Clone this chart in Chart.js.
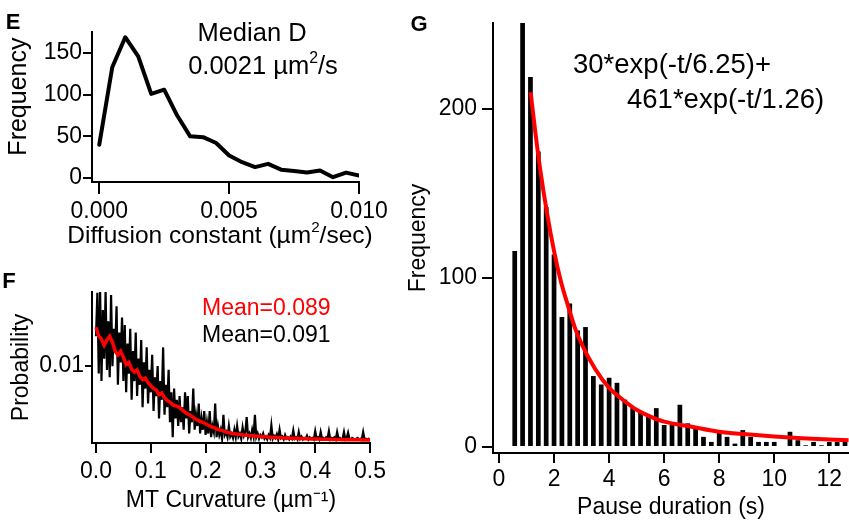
<!DOCTYPE html>
<html>
<head>
<meta charset="utf-8">
<title>Diffusion, curvature and pause histograms</title>
<script src="https://cdn.jsdelivr.net/npm/chart.js@4.4.1/dist/chart.umd.min.js"></script>
<style>
  body { margin: 0; background: #fff; }
  #wrap { position: relative; width: 849px; height: 521px; overflow: hidden; font-family: 'Liberation Sans', Arial, sans-serif; }
  #wrap canvas { position: absolute; left: 0; top: 0; }
  .lbl { position: absolute; white-space: nowrap; line-height: 1; color: #000; }
  .mid { transform: translate(-50%, -50%); }
  .left { transform: translateY(-50%); }
  .panel { font-weight: bold; font-size: 22px; }
  sup { font-size: 0.62em; vertical-align: 0.7em; line-height: 0; }
</style>
</head>
<body>
<div id="wrap">
  <canvas id="chartE" width="849" height="521"></canvas>
  <canvas id="chartF" width="849" height="521"></canvas>
  <canvas id="chartG" width="849" height="521"></canvas>

  <div class="lbl panel mid" style="left:13px;top:22px">E</div>
  <div class="lbl mid" style="left:252px;top:33px;font-size:25.5px">Median D</div>
  <div class="lbl mid" style="left:263px;top:66px;font-size:25.5px">0.0021 µm<sup>2</sup>/s</div>
  <div class="lbl mid" style="left:220px;top:235px;font-size:24.5px">Diffusion constant (µm<sup>2</sup>/sec)</div>

  <div class="lbl panel mid" style="left:9px;top:281px">F</div>
  <div class="lbl left" style="left:202px;top:307px;font-size:23px;color:#ff0000">Mean=0.089</div>
  <div class="lbl left" style="left:202px;top:334px;font-size:23px">Mean=0.091</div>

  <div class="lbl panel mid" style="left:419px;top:24px">G</div>
  <div class="lbl left" style="left:573px;top:64px;font-size:27.5px">30*exp(-t/6.25)+</div>
  <div class="lbl left" style="left:627px;top:99px;font-size:27.5px">461*exp(-t/1.26)</div>
</div>

<script>
// ---- panel E : diffusion constant histogram (line)
const diffConst = [0, 0.0005, 0.001, 0.0015, 0.002, 0.0025, 0.003, 0.0035, 0.004, 0.0045, 0.005,
                   0.0055, 0.006, 0.0065, 0.007, 0.0075, 0.008, 0.0085, 0.009, 0.0095, 0.01];
const diffFreq = [40, 133, 169, 146, 101, 106, 75, 50, 49, 42, 27, 19, 13, 17, 10, 8.5, 6.5, 9, 1, 6.5, 3];
const diffTicksX = [0, 0.005, 0.01];
const diffTicksY = [0, 50, 100, 150];

// ---- panel F : MT curvature probability (per mille), two traces
const curvBinBlack = 0.0025;
const curvProbBlack = [
  14.0, 19.8, 9.0, 20.0, 8.0, 17.5, 11.0, 20.0, 9.5, 16.0, 8.5, 19.5, 10.0, 15.0, 12.0, 18.0, 7.5, 14.5, 10.5, 16.5,
  8.0, 15.5, 6.5, 13.0, 9.0, 15.0, 5.5, 12.0, 8.0, 14.5, 6.0, 11.0, 7.5, 13.5, 4.5, 10.5, 7.0, 12.5, 5.0, 9.5,
  6.5, 11.5, 4.0, 8.5, 6.0, 10.0, 3.0, 8.0, 5.5, 12.5, 3.5, 7.5, 4.5, 9.5, 2.5, 6.5, 0.5, 7.0, 3.0, 5.5,
  2.0, 6.0, 2.5, 4.5, 1.5, 6.5, 3.0, 6.0, 1.0, 4.0, 2.5, 7.0, 1.5, 3.5, 2.0, 5.0, 1.0, 3.0, 1.5, 4.0,
  0.8, 2.5, 1.0, 4.0, 0.5, 2.0, 1.2, 5.0, 0.5, 2.0, 0.8, 1.5, 0.3, 3.5, 0.8, 1.2, 0.5, 2.0, 0.6, 1.0,
  0.4, 1.5, 0.5, 2.0, 0.6, 1.0, 0.3, 1.8, 0.7, 1.2, 3.2, 0.5, 1.0, 0.4, 1.5, 0.6, 3.5, 0.5, 1.0, 0.3,
  0.8, 0.5, 1.0, 0.3, 0.6, 0.2, 0.8, 0.4, 2.1, 0.3, 0.7, 0.4, 0.9, 0.2, 1.5, 0.4, 0.6, 0.2, 0.8, 0.3,
  0.5, 0.2, 0.6, 0.3, 1.4, 0.3, 0.5, 0.2, 1.2, 0.3, 0.6, 0.2, 0.4, 0.3, 0.7, 0.2, 0.5, 0.3, 0.4, 0.2,
  1.3, 0.3, 0.5, 0.2, 1.2, 0.3, 0.4, 0.2, 0.5, 0.3, 1.3, 0.2, 0.4, 0.3, 0.5, 0.2, 1.2, 0.3, 0.4, 0.2,
  0.3, 1.2, 0.2, 0.4, 1.1, 0.3, 0.2, 0.4, 0.3, 0.2, 0.3, 0.4, 0.2, 0.3, 0.2, 1.2, 0.2, 0.3, 0.2, 0.3,
  0.2
];
const curvBinRed = 0.005;
const curvProbRed = [
  15.2, 14.0, 13.6, 12.8, 13.5, 14.0, 13.2, 12.0, 11.5, 12.0,
  11.2, 10.2, 10.5, 9.6, 9.2, 9.5, 8.6, 8.2, 8.4, 7.8,
  7.4, 7.0, 6.8, 6.2, 6.4, 5.8, 5.4, 5.2, 4.8, 4.7,
  4.6, 4.3, 4.0, 3.7, 3.5, 3.3, 3.0, 2.8, 2.6, 2.5,
  2.3, 2.1, 1.9, 1.8, 1.6, 1.5, 1.4, 1.25, 1.15, 1.05,
  1.0, 0.95, 0.9, 0.85, 0.8, 0.78, 0.72, 0.7, 0.66, 0.62,
  0.6, 0.58, 0.55, 0.52, 0.5, 0.48, 0.46, 0.45, 0.42, 0.4,
  0.4, 0.38, 0.36, 0.35, 0.33, 0.32, 0.3, 0.3, 0.28, 0.27,
  0.26, 0.25, 0.24, 0.24, 0.22, 0.22, 0.21, 0.2, 0.2, 0.19,
  0.18, 0.18, 0.17, 0.16, 0.16, 0.15, 0.15, 0.14, 0.14, 0.13,
  0.13
];
const curvTicksX = [0, 0.1, 0.2, 0.3, 0.4, 0.5];
const curvTicksY = [0.01];

// ---- panel G : pause duration histogram + double exponential fit
const frameTime = 2 / 7;          // bins are whole frames, first bar = 2 frames
const pauseCounts = [116, 251, 219, 175, 142, 114, 77, 85, 69, 71, 42, 37, 41, 38, 28, 23, 21, 19, 23, 13,
                     13, 25, 14, 11, 6, 3, 10, 6, 2, 10, 6, 3, 3, 3, 0, 9, 4, 1, 3, 1, 3, 3, 4];
const fitTime = [1.15, 1.3, 1.5, 1.75, 2, 2.25, 2.5, 2.75, 3, 3.5, 4, 4.5, 5, 5.5, 6, 7, 8, 9, 10, 11, 12, 12.7];
const fitCount = [210, 189, 164, 138, 116, 98, 84, 71, 61, 46, 35, 28, 22, 18, 15, 12, 9, 7.5, 6.2, 5.2, 4.4, 4.0];
const pauseTicksX = [0, 2, 4, 6, 8, 10, 12];
const pauseTicksY = [0, 100, 200];

const FONT = "'Liberation Sans', Arial, sans-serif";
Chart.defaults.font.family = FONT;
Chart.defaults.color = '#000';

// Igor-like axis: offset axis line, outward ticks, fixed size so the plot box lands where it should
function axis(o) {
    return {
        type: 'linear',
        min: o.min, max: o.max,
        offset: false,
        title: { display: !!o.title, text: o.title || '', color: '#000', font: { size: o.titleSize || 23 }, padding: 0 },
        border: { display: true, color: '#000', width: 2 },
        grid: { display: true, drawOnChartArea: false, drawTicks: true, tickLength: o.tl, color: '#000', lineWidth: 2, offset: false },
        ticks: { color: '#000', font: { size: 23 }, padding: o.pad, autoSkip: false, maxRotation: 0, minRotation: 0, callback: o.fmt },
        afterBuildTicks: s => { s.ticks = o.ticks.map(v => ({ value: v })); },
        afterFit: s => { if (s.isHorizontal()) s.height = o.size; else s.width = o.size; }
    };
}

function baseOptions(padding, scales) {
    return {
        responsive: false,
        animation: false,
        events: [],
        layout: { padding: padding },
        plugins: { legend: { display: false }, tooltip: { enabled: false } },
        scales: scales
    };
}

// E  (x title is the html label above: it is wider than the plot box)
new Chart(document.getElementById('chartE'), {
    type: 'line',
    data: {
        datasets: [{
            data: diffConst.map((x, i) => ({ x: x, y: diffFreq[i] })),
            borderColor: '#000', borderWidth: 4, pointRadius: 0, tension: 0,
            borderJoinStyle: 'round', borderCapStyle: 'round'
        }]
    },
    options: baseOptions({ left: 4, top: 32, right: 490, bottom: 272 }, {
        x: axis({ min: -0.00028, max: 0.01, ticks: diffTicksX, fmt: v => v.toFixed(3), tl: 12, pad: 4, size: 67 }),
        // leading spaces nudge the centred title up to where the original has it
        y: axis({ min: -4.8, max: 175.3, ticks: diffTicksY, fmt: v => String(v), tl: 9, pad: 1, size: 88,
                  title: '   Frequency', titleSize: 25 })
    })
});

// F
new Chart(document.getElementById('chartF'), {
    type: 'line',
    data: {
        datasets: [
            {
                data: curvProbRed.map((p, i) => ({ x: i * curvBinRed, y: p / 1000 })),
                borderColor: '#ff0000', borderWidth: 3.5, pointRadius: 0, tension: 0, order: 0
            },
            {
                data: curvProbBlack.map((p, i) => ({ x: i * curvBinBlack, y: p / 1000 })),
                borderColor: '#000', borderWidth: 2.2, pointRadius: 0, tension: 0, order: 1
            }
        ]
    },
    options: baseOptions({ left: 8, top: 292, right: 479, bottom: 7 }, {
        x: axis({ min: -0.0073, max: 0.5, ticks: curvTicksX, fmt: v => v.toFixed(1), tl: 10, pad: 5, size: 71,
                  title: 'MT Curvature (µm⁻¹)' }),
        y: axis({ min: -0.00027, max: 0.0199, ticks: curvTicksY, fmt: v => '0.01', tl: 7, pad: 1, size: 84,
                  title: 'Probability' })
    })
});

// G
new Chart(document.getElementById('chartG'), {
    type: 'bar',
    data: {
        datasets: [
            {
                type: 'line',
                data: fitTime.map((t, i) => ({ x: t, y: fitCount[i] })),
                borderColor: '#ff0000', borderWidth: 4, pointRadius: 0,
                cubicInterpolationMode: 'monotone', order: 0
            },
            {
                data: pauseCounts.map((c, i) => ({ x: (i + 2) * frameTime, y: c })),
                backgroundColor: '#000', borderWidth: 0,
                barPercentage: 0.6, categoryPercentage: 1, order: 1
            }
        ]
    },
    options: baseOptions({ left: 405, top: 23, right: 0, bottom: 0 }, {
        x: axis({ min: -0.218, max: 12.716, ticks: pauseTicksX, fmt: v => String(v), tl: 10, pad: 3, size: 68,
                  title: 'Pause duration (s)' }),
        y: axis({ min: -3.56, max: 251, ticks: pauseTicksY, fmt: v => String(v), tl: 11, pad: 5, size: 88,
                  title: 'Frequency' })
    })
});
</script>
</body>
</html>
